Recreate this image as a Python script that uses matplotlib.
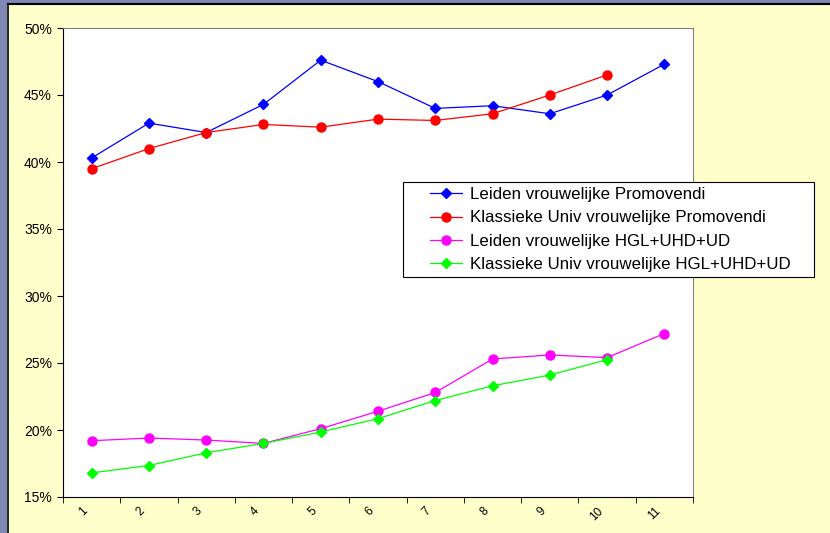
import matplotlib.pyplot as plt
from matplotlib.patches import Rectangle
from matplotlib.lines import Line2D
from matplotlib.ticker import FuncFormatter
from matplotlib.transforms import ScaledTranslation

plt.rcParams['font.family'] = ['Liberation Sans', 'DejaVu Sans']

# categorieen 1..11
jaren = list(range(1, 12))
leiden_promovendi = [40.3, 42.9, 42.2, 44.3, 47.6, 46.0, 44.0, 44.2, 43.6, 45.0, 47.3]
klassiek_promovendi = [39.5, 41.0, 42.2, 42.8, 42.6, 43.2, 43.1, 43.6, 45.0, 46.5]
leiden_hgl = [19.2, 19.4, 19.25, 19.0, 20.1, 21.4, 22.8, 25.3, 25.6, 25.4, 27.2]
klassiek_hgl = [16.8, 17.35, 18.3, 19.0, 19.85, 20.85, 22.2, 23.3, 24.1, 25.25]

labels = ['Leiden vrouwelijke Promovendi',
          'Klassieke Univ vrouwelijke Promovendi',
          'Leiden vrouwelijke HGL+UHD+UD',
          'Klassieke Univ vrouwelijke HGL+UHD+UD']

fig = plt.figure(figsize=(8.3, 5.33), dpi=100)
fig.patch.set_facecolor('#FFFFCC')

# venster rand links en boven
fig.patches.append(Rectangle((0, 0), 7 / 830, 1, transform=fig.transFigure,
                             facecolor='#7F87B5', edgecolor='none'))
fig.patches.append(Rectangle((0, 1 - 3 / 533), 1, 3 / 533, transform=fig.transFigure,
                             facecolor='#7F87B5', edgecolor='none'))
fig.lines.append(Line2D([7.5 / 830, 7.5 / 830], [0, 1 - 3.5 / 533], transform=fig.transFigure,
                        color='black', lw=1.2))
fig.lines.append(Line2D([7.5 / 830, 1], [1 - 4 / 533, 1 - 4 / 533], transform=fig.transFigure,
                        color='black', lw=1.5))

ax = fig.add_axes([63 / 830, 36 / 533, 630 / 830, 469 / 533])
ax.set_facecolor('white')

ax.plot(jaren, leiden_promovendi, color='#0000FF', marker='D', ms=5, lw=0.9, label=labels[0])
ax.plot(jaren[:len(klassiek_promovendi)], klassiek_promovendi, color='#FF0000', marker='o', ms=6.5,
        lw=0.9, label=labels[1])
ax.plot(jaren, leiden_hgl, color='#FF00FF', marker='o', ms=6.5, lw=0.9, label=labels[2])
ax.plot(jaren[:len(klassiek_hgl)], klassiek_hgl, color='#00FF00', marker='D', ms=5, lw=0.9,
        label=labels[3])

ax.set_xlim(0.5, 11.5)
ax.set_ylim(15, 50)
ax.set_yticks(range(15, 51, 5))
ax.yaxis.set_major_formatter(FuncFormatter(lambda v, p: f'{int(v)}%'))
ax.tick_params(axis='y', direction='out', length=4, labelsize=10, pad=4)

ax.set_xticks(jaren)
ax.set_xticklabels([str(j) for j in jaren], rotation=45, fontsize=8.5,
                   ha='right', va='center', rotation_mode='anchor')
ax.set_xticks([j + 0.5 for j in range(0, 12)], minor=True)
ax.tick_params(axis='x', which='major', length=0, pad=9)
ax.tick_params(axis='x', which='minor', direction='out', length=4)
verschuif = ScaledTranslation(-6 / 100, 0, fig.dpi_scale_trans)
for lbl in ax.get_xticklabels():
    lbl.set_transform(lbl.get_transform() + verschuif)

for s in ['left', 'bottom']:
    ax.spines[s].set_color('black')
for s in ['top', 'right']:
    ax.spines[s].set_color('#808080')

# legenda kader apart tekenen (meer ruimte links/rechts)
box = Rectangle((340 / 630, 220 / 469), 411 / 630, 95 / 469, transform=ax.transAxes,
                facecolor='white', edgecolor='black', lw=0.8, clip_on=False, zorder=4)
ax.add_patch(box)
leg = ax.legend(loc='upper left', bbox_to_anchor=(367 / 630, 1 - 159 / 469), fontsize=12.2,
                frameon=False, handlelength=1.9, handletextpad=0.45, borderpad=0,
                labelspacing=0.5, borderaxespad=0)
leg.set_zorder(5)

fig.savefig('out.png', dpi=100, facecolor=fig.get_facecolor())
